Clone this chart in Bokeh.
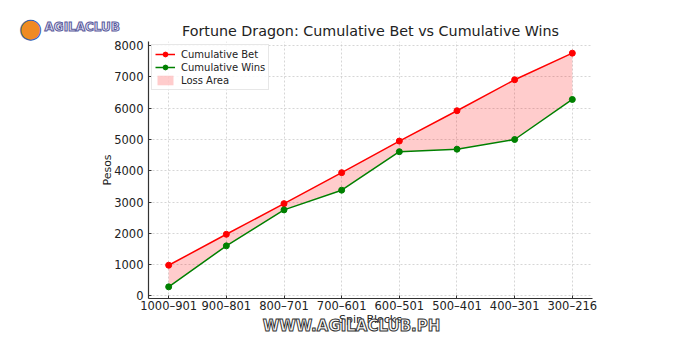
from bokeh.plotting import figure
from bokeh.models import Range1d, FixedTicker, Legend, LegendItem, Label
from bokeh.embed import file_html
from bokeh.resources import INLINE

blocks = ["1000–901", "900–801", "800–701", "700–601", "600–501", "500–401", "400–301", "300–216"]
cum_bet = [980, 1970, 2950, 3940, 4950, 5920, 6910, 7760]
cum_wins = [290, 1600, 2750, 3380, 4610, 4690, 5000, 6280]
y_ticks = [0, 1000, 2000, 3000, 4000, 5000, 6000, 7000, 8000]

FONT = "DejaVu Sans"
xs = list(range(len(blocks)))
FL = 148
HAS_OUTLINE = "text_outline_color" in Label.properties()


def lbl(cx, cy, outline=None, **kw):
    l = Label(x=cx, y=cy, x_units="canvas", y_units="canvas", **kw)
    if outline and HAS_OUTLINE:
        l.text_outline_color = outline
    return l


p = figure(width=700, height=350, output_backend="svg", toolbar_location=None,
           x_range=Range1d(-0.35, len(blocks) - 1 + 0.35), y_range=Range1d(-83, 8133),
           min_border_left=FL, min_border_right=108, min_border_top=41, min_border_bottom=52,
           title="Fortune Dragon: Cumulative Bet vs Cumulative Wins")

p.title.align = "center"
p.title.text_font = FONT
p.title.text_font_size = "14.3px"
p.title.text_font_style = "normal"
p.title.text_color = "#222222"
p.title.standoff = 5
p.outline_line_color = None
p.background_fill_color = "white"
p.border_fill_color = "white"

area = p.varea(x=xs, y1=cum_wins, y2=cum_bet, fill_color="red", fill_alpha=0.2)
bl = p.line(xs, cum_bet, line_color="red", line_width=1.5)
bs = p.scatter(xs, cum_bet, size=6, fill_color="red", line_color="red")
wl = p.line(xs, cum_wins, line_color="green", line_width=1.5)
ws = p.scatter(xs, cum_wins, size=6, fill_color="green", line_color="green")

legend = Legend(items=[
    LegendItem(label="Cumulative Bet", renderers=[bl, bs]),
    LegendItem(label="Cumulative Wins", renderers=[wl, ws]),
    LegendItem(label="Loss Area", renderers=[area]),
], location="top_left")
legend.label_text_font = FONT
legend.label_text_font_size = "10px"
legend.label_text_color = "#222222"
legend.glyph_width = 20
legend.glyph_height = 12
legend.label_height = 12
legend.label_standoff = 6
legend.spacing = 1
legend.padding = 3
legend.margin = 3
legend.border_line_color = "#d0d0d0"
legend.background_fill_alpha = 0.85
p.add_layout(legend)

p.xaxis.ticker = FixedTicker(ticks=xs)
p.xaxis.major_label_overrides = {i: b for i, b in enumerate(blocks)}
p.yaxis.ticker = FixedTicker(ticks=y_ticks)
for ax in (p.xaxis, p.yaxis):
    ax.major_label_text_font = FONT
    ax.major_label_text_font_size = "11.5px"
    ax.major_label_text_color = "#222222"
    ax.axis_label_text_font = FONT
    ax.axis_label_text_font_size = "11px"
    ax.axis_label_text_font_style = "normal"
    ax.axis_label_text_color = "#222222"
    ax.axis_line_color = "#333333"
    ax.axis_line_width = 1.2
    ax.major_tick_in = 3
    ax.major_tick_out = 0
    ax.minor_tick_line_color = None
    ax.major_tick_line_color = "#333333"
p.xaxis.axis_label = "Spin Blocks"
p.yaxis.axis_label = "Pesos"
p.xaxis.major_label_standoff = 0
p.xaxis.axis_label_standoff = -3
p.yaxis.major_label_standoff = 5
p.yaxis.axis_label_standoff = -3

p.grid.grid_line_color = "#cccccc"
p.grid.grid_line_dash = "2 2"
p.grid.grid_line_width = 0.8

# watermark (below panel), logo text (right panel), logo icon (left panel)
p.add_layout(lbl(351, 325, outline="#333333",
                 text="WWW.AGILACLUB.PH", text_font=FONT, text_font_style="bold",
                 text_font_size="15px", text_color="white", text_align="center",
                 text_baseline="middle"), "below")
p.add_layout(lbl(44, 26, outline="#5a5a9a",
                 text="AGILACLUB", text_font=FONT, text_font_style="bold",
                 text_font_size="12px", text_color="#e6e6fa", text_baseline="middle"), "right")
p.add_layout(lbl(30, 27, outline="#2f5fb8", text="●", text_font=FONT, text_font_size="26px",
                 text_color="#f08a24", text_align="center", text_baseline="middle"), "left")

open("out.html", "w").write(file_html(p, INLINE))
